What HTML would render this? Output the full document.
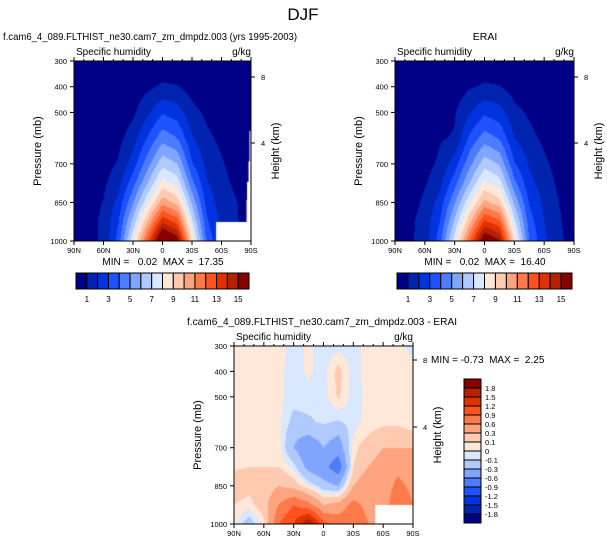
<!DOCTYPE html>
<html><head><meta charset="utf-8"><style>
body{margin:0;width:607px;height:545px;background:#fff;position:relative;overflow:hidden;font-family:"Liberation Sans",sans-serif}
canvas{position:absolute}
svg{position:absolute;left:0;top:0}
text{font-family:"Liberation Sans",sans-serif;fill:#000;white-space:pre}
</style></head><body>
<canvas id="c1" style="left:74px;top:61px" width="177" height="180"></canvas>
<canvas id="c2" style="left:395px;top:61px" width="179" height="180"></canvas>
<canvas id="c3" style="left:234px;top:346px" width="179" height="178"></canvas>
<svg id="s" width="607" height="545"></svg>
<script>
const colors=["#000086","#0024b0","#0033e0","#1f52ff","#4c7cff","#7fa5ff","#b0c9ff","#d9e8ff","#ffe8d8","#ffcab0","#ffa47f","#ff7a4a","#ff521f","#e03200","#b42200","#860000"];
const levels=[1,2,3,4,5,6,7,8,9,10,11,12,13,14,15];
const dlevels=[-1.8,-1.5,-1.2,-0.9,-0.6,-0.3,-0.1,0,0.1,0.3,0.6,0.9,1.2,1.5,1.8];
const lats=[90,75,60,45,30,15,0,-15,-30,-45,-60,-75,-90];
const pres=[300,400,500,600,700,775,850,925,1000];
const modelQ=[
[0.02,0.02,0.03,0.05,0.1,0.2,0.3,0.25,0.15,0.1,0.05,0.03,0.02],
[0.02,0.03,0.05,0.15,0.4,0.8,1.15,1.05,0.6,0.3,0.15,0.05,0.03],
[0.03,0.05,0.15,0.4,0.8,1.8,2.9,2.5,1.3,0.8,0.4,0.15,0.05],
[0.05,0.1,0.3,0.7,1.5,3.1,4.6,4.0,2.1,1.2,0.8,0.35,0.1],
[0.1,0.25,0.6,1.1,2.5,4.6,6.7,6.0,3.1,1.7,1.1,0.6,0.2],
[0.15,0.35,0.8,1.6,3.6,6.0,8.4,7.6,4.3,2.1,1.3,0.8,0.3],
[0.25,0.6,1.05,2.3,4.9,7.8,10.6,9.6,5.8,2.6,1.5,1.05,0.4],
[0.35,0.7,1.2,2.9,6.3,10.0,13.8,12.6,7.3,3.2,1.7,1.1,0.5],
[0.4,0.7,1.2,3.4,7.8,12.5,17.3,15.8,8.8,3.8,1.9,1.2,0.6]];
const eraiQ=[
[0.02,0.02,0.03,0.05,0.1,0.2,0.3,0.25,0.15,0.1,0.05,0.03,0.02],
[0.02,0.03,0.05,0.15,0.45,0.9,1.15,1.05,0.6,0.3,0.15,0.05,0.03],
[0.03,0.05,0.15,0.45,0.9,1.9,2.8,2.4,1.3,0.85,0.4,0.15,0.05],
[0.05,0.1,0.35,0.9,1.1,3.2,4.5,3.9,2.0,1.3,0.8,0.35,0.1],
[0.1,0.25,0.6,1.2,2.5,4.7,6.6,5.9,3.1,1.9,1.2,0.6,0.2],
[0.15,0.4,0.9,1.7,3.6,6.0,8.3,7.5,4.3,2.3,1.5,0.8,0.3],
[0.25,0.6,1.2,2.4,4.9,7.8,10.3,9.4,5.8,2.9,1.8,1.0,0.4],
[0.35,0.8,1.4,3.0,6.2,9.8,13.2,12.3,7.3,3.5,2.0,1.1,0.5],
[0.4,0.8,1.5,3.5,7.6,12.0,16.4,15.2,8.8,4.0,2.2,1.2,0.6]];
const dpres=[300,400,500,600,650,700,775,850,925,1000];
const diffQ=[
[0.05,0.05,0.05,0.05,-0.05,0.02,-0.05,-0.05,-0.05,0.05,0.05,0.05,-0.05],
[0.05,0.05,0.05,0.03,-0.05,0.02,-0.05,0.15,-0.05,0.05,0.05,0.05,0.05],
[0.05,0.05,0.05,0.03,-0.05,-0.05,-0.05,0.12,-0.05,0.03,0.05,0.05,0.05],
[0.05,0.05,0.05,0.03,-0.15,-0.12,-0.08,-0.12,-0.05,0.05,0.08,0.08,0.05],
[0.05,0.05,0.05,0.04,-0.25,-0.3,-0.2,-0.3,0.0,0.1,0.15,0.15,0.12],
[0.05,0.05,0.05,0.05,-0.3,-0.5,-0.3,-0.45,0.05,0.2,0.3,0.3,0.3],
[0.08,0.1,0.1,0.1,-0.05,-0.4,-0.5,-0.8,0.1,0.3,0.4,0.5,0.4],
[0.2,0.15,0.15,0.3,0.2,0.0,-0.2,-0.3,0.3,0.5,0.4,0.7,0.5],
[0.1,0.05,0.2,0.6,0.9,0.7,0.3,0.4,0.7,0.5,0.4,0.9,0.6],
[0.05,-0.2,0.05,0.9,1.2,1.8,1.0,0.8,0.9,0.6,0.3,0.5,0.3]];
const pTicks=[300,400,500,700,850,1000];
const latTicks=["90N","60N","30N","0","30S","60S","90S"];
const latTickVals=[90,60,30,0,-30,-60,-90];
const hTicks=[8,4];

function interp(grid,pr,lat,p){
  let fi=(90-lat)/15; let i=Math.min(11,Math.floor(fi)); let fx=fi-i;
  let j=0; while(j<pr.length-2&&p>pr[j+1])j++;
  let fy=(p-pr[j])/(pr[j+1]-pr[j]);
  const a=grid[j][i],b=grid[j][i+1],c=grid[j+1][i],d=grid[j+1][i+1];
  return a*(1-fx)*(1-fy)+b*fx*(1-fy)+c*(1-fx)*fy+d*fx*fy;
}
function lev(v,L){let k=0;while(k<L.length&&v>=L[k])k++;return k;}
function fill(id,grid,pr,L,whites){
  const cv=document.getElementById(id),ctx=cv.getContext('2d'),W=cv.width,H=cv.height;
  for(let y=0;y<H;y++)for(let x=0;x<W;x++){
    const lat=90-(x+0.5)/W*180,p=300+(y+0.5)/H*700;
    ctx.fillStyle=colors[lev(interp(grid,pr,lat,p),L)];ctx.fillRect(x,y,1,1);
  }
  ctx.fillStyle="#fff";(whites||[]).forEach(r=>{
    const x0=(90-r[0])/180*W,x1=(90-r[1])/180*W,y0=(r[2]-300)/700*H,y1=(r[3]-300)/700*H;
    ctx.fillRect(x0,y0,x1-x0,y1-y0);});
}
fill('c1',modelQ,pres,levels,[[-54.5,-90,926,1000],[-88.5,-90,572,1000],[-87.5,-90,690,1000],[-86,-90,770,1000],[-85.5,-90,840,1000]]);
fill('c2',eraiQ,pres,levels,[]);
fill('c3',diffQ,dpres,dlevels,[[-52,-90,925,1000]]);

const S=document.getElementById('s');const NS="http://www.w3.org/2000/svg";
function el(t,a,txt){const e=document.createElementNS(NS,t);for(const k in a)e.setAttribute(k,a[k]);if(txt!==undefined)e.textContent=txt;S.appendChild(e);return e;}
function panel(x0,y0,w,h,title,tx,tl,hy,nm){
  const yP=p=>y0+(p-300)/700*h, xL=l=>x0+(90-l)/180*w;
  let r=el('rect',{x:x0,y:y0,width:w,height:h,fill:'none',stroke:'#000','stroke-width':1});
  
  const ta={x:tx,y:y0-21,'font-size':10.5,'text-anchor':'middle'};
  if(tl){ta.textLength=tl;ta.lengthAdjust='spacingAndGlyphs';}
  let t=el('text',ta,title);
  
  t=el('text',{x:x0+2,y:y0-6,'font-size':10},'Specific humidity');
  
  t=el('text',{x:x0+w,y:y0-6,'font-size':10,'text-anchor':'end'},'g/kg');
  
  pTicks.forEach(p=>{el('line',{x1:x0-4,x2:x0,y1:yP(p),y2:yP(p),stroke:'#000'});
    t=el('text',{x:x0-7,y:yP(p)+3,'font-size':7.5,'text-anchor':'end'},p);
    });
  latTickVals.forEach((l,i)=>{el('line',{x1:xL(l),x2:xL(l),y1:y0+h,y2:y0+h+4,stroke:'#000'});
    el('line',{x1:xL(l),x2:xL(l),y1:y0,y2:y0-4,stroke:'#000'});
    t=el('text',{x:xL(l),y:y0+h+12,'font-size':7.5,'text-anchor':'middle'},latTicks[i]);
    });
  for(let l=80;l>-90;l-=10){if(l%30)el('line',{x1:xL(l),x2:xL(l),y1:y0,y2:y0-2,stroke:'#000'});}
  hTicks.forEach((hk,i)=>{const y=hy[i];el('line',{x1:x0+w,x2:x0+w+4,y1:y,y2:y,stroke:'#000'});
    t=el('text',{x:x0+w+10,y:y+3,'font-size':7.5},hk);
    });
  t=el('text',{x:0,y:0,'font-size':11,'text-anchor':'middle',transform:`translate(${x0-33},${y0+h/2}) rotate(-90)`},'Pressure (mb)');
  
  t=el('text',{x:0,y:0,'font-size':11,'text-anchor':'middle',transform:`translate(${x0+w+28},${y0+h/2}) rotate(-90)`},'Height (km)');
  
}
let t=el('text',{x:303,y:20,'font-size':17,'text-anchor':'middle'},'DJF');

panel(74,61,177,180,'f.cam6_4_089.FLTHIST_ne30.cam7_zm_dmpdz.003 (yrs 1995-2003)',150,294,[77,143],'model');
panel(395,61,179,180,'ERAI',485,0,[77,143],'erai');
panel(234,346,179,178,'f.cam6_4_089.FLTHIST_ne30.cam7_zm_dmpdz.003 - ERAI',322,270,[360,427],'diff');
t=el('text',{x:163,y:265,'font-size':10,'text-anchor':'middle'},'MIN =   0.02  MAX =  17.35');

t=el('text',{x:485,y:265,'font-size':10,'text-anchor':'middle'},'MIN =   0.02  MAX =  16.40');

t=el('text',{x:431,y:363,'font-size':10},'MIN = -0.73  MAX =  2.25');

function hbar(x0,w,nm){const bw=w/16;
  colors.forEach((c,i)=>{const r=el('rect',{x:x0+i*bw,y:273,width:bw,height:16,fill:c,stroke:'#000','stroke-width':1});
    });
  levels.forEach((v,i)=>{if(i%2==0){const t=el('text',{x:x0+(i+1)*bw,y:302,'font-size':8,'text-anchor':'middle'},v);
    }});}
hbar(76,173,'model');hbar(397,175,'erai');
colors.forEach((c,i)=>{const r=el('rect',{x:464,y:379+(15-i)*9,width:17,height:9,fill:c,stroke:'#000','stroke-width':1});
  });
dlevels.forEach((v,i)=>{const t=el('text',{x:485,y:379+(15-i)*9+3,'font-size':7.5},v);
  });
</script>
</body></html>
